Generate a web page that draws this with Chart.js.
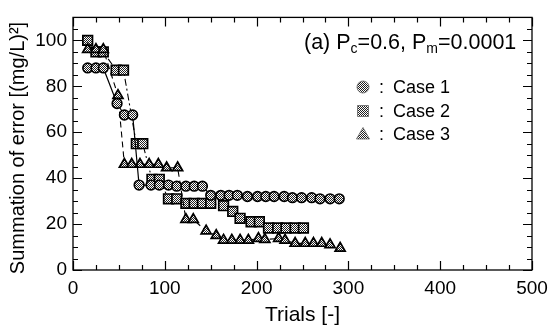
<!DOCTYPE html>
<html><head><meta charset="utf-8">
<script src="https://cdn.jsdelivr.net/npm/chart.js@4.4.0/dist/chart.umd.min.js"></script>
<style>html,body{margin:0;padding:0;background:#fff}</style>
</head><body>
<canvas id="c" width="555" height="332"></canvas>
<script>
// ---- data ----
const case1Trials = [16, 25, 33, 48, 56, 65, 72, 85, 94, 104, 113, 123, 132, 141, 150, 161, 170, 179, 190, 201, 210, 219, 230, 239, 249, 260, 269, 280, 290];
const case1Values = [88, 88, 88, 72.5, 67.5, 67.5, 37, 37, 37, 37, 36.5, 36.5, 36.5, 36.5, 32.5, 32.5, 32.5, 32.5, 32, 32, 32, 32, 32, 31.5, 31.5, 31.5, 31, 31, 31];
const case2Trials = [16, 25, 33, 47, 55, 69, 76, 86, 94, 104, 113, 123, 132, 141, 150, 164, 174, 182, 194, 203, 213, 223, 232, 242, 251];
const case2Values = [100, 95, 95, 87, 87, 55, 55, 39.5, 39.5, 31, 31, 29, 29, 29, 29, 28, 25.5, 22.5, 21, 21, 18.3, 18.3, 18.3, 18.3, 18.3];
const case3Trials = [16, 25, 33, 49, 56, 64, 73, 83, 93, 102, 114, 123, 131, 145, 156, 164, 173, 182, 191, 202, 209, 224, 231, 242, 253, 262, 271, 280, 291];
const case3Values = [96, 96, 96, 76, 46, 46, 46, 46, 46, 44.5, 44.5, 22, 22, 17, 15, 13, 13, 13, 13, 13.7, 13.3, 13.7, 13, 11.6, 11.6, 11.6, 11.6, 11, 9.5];
const seriesNames = ['Case 1', 'Case 2', 'Case 3'];
const xTicks = [0, 100, 200, 300, 400, 500];
const yTicks = [0, 20, 40, 60, 80, 100];
const xTitle = 'Trials [-]';
const yTitle = 'Summation of error [(mg/L)\u00B2]';

// ---- halftone pattern for markers ----
function makePattern(){
  const pc = document.createElement('canvas'); pc.width = 2; pc.height = 2;
  const g = pc.getContext('2d');
  g.fillStyle = '#fff'; g.fillRect(0,0,2,2);
  g.fillStyle = '#222'; g.fillRect(0,0,1,1); g.fillRect(1,1,1,1);
  return document.createElement('canvas').getContext('2d').createPattern(pc, 'repeat');
}
const halftone = makePattern();
const FONT = 'Arial, "Liberation Sans", Helvetica, sans-serif';

function pts(xs, ys){ return xs.map((x,i)=>({x, y: ys[i]})); }

const framePlugin = {
  id: 'frame',
  beforeDatasetsDraw(chart){
    const {ctx, chartArea:a, scales:{x, y}} = chart;
    ctx.save();
    ctx.strokeStyle = '#000';
    ctx.lineWidth = 1.3;
    ctx.strokeRect(a.left, a.top, a.right - a.left, a.bottom - a.top);
    ctx.lineWidth = 1.2;
    ctx.beginPath();
    for (let v = 0; v <= 500; v += 25){
      const p = Math.round(x.getPixelForValue(v)) + 0.5;
      const L = v % 100 === 0 ? 9 : 5;
      ctx.moveTo(p, a.bottom); ctx.lineTo(p, a.bottom - L);
      ctx.moveTo(p, a.top); ctx.lineTo(p, a.top + L);
    }
    for (let v = 0; v <= 110; v += 5){
      const p = Math.round(y.getPixelForValue(v)) + 0.5;
      const L = v % 20 === 0 ? 9 : 5;
      ctx.moveTo(a.left, p); ctx.lineTo(a.left + L, p);
      ctx.moveTo(a.right, p); ctx.lineTo(a.right - L, p);
    }
    ctx.stroke();
    ctx.restore();
  },
  afterDraw(chart){
    const {ctx} = chart;
    ctx.save();
    ctx.fillStyle = '#000';
    // y axis title
    ctx.save();
    ctx.translate(18, 148);
    ctx.rotate(-Math.PI/2);
    ctx.font = '20px ' + FONT;
    ctx.textAlign = 'center'; ctx.textBaseline = 'middle';
    ctx.fillText(yTitle, 0, 0);
    ctx.restore();
    // annotation title with subscripts
    const parts = [['(a) P', 0], ['c', 1], ['=0.6, P', 0], ['m', 1], ['=0.0001', 0]];
    let xx = 304; const base = 49;
    ctx.textBaseline = 'alphabetic'; ctx.textAlign = 'left';
    for (const [t, sub] of parts){
      ctx.font = (sub ? '14px ' : '21.5px ') + FONT;
      ctx.fillText(t, xx, base + (sub ? 4 : 0));
      xx += ctx.measureText(t).width;
    }
    // legend
    const rows = [87, 111, 134];
    ctx.font = '18px ' + FONT;
    ctx.textBaseline = 'middle';
    rows.forEach((ry, i) => {
      const mx = 363;
      ctx.fillStyle = halftone;
      ctx.strokeStyle = '#666'; ctx.lineWidth = 0.8;
      ctx.beginPath();
      if (i === 0) ctx.arc(mx, ry, 6, 0, Math.PI*2);
      else if (i === 1) ctx.rect(mx - 5.5, ry - 5.5, 11, 11);
      else { ctx.moveTo(mx, ry - 6.5); ctx.lineTo(mx + 6.5, ry + 5); ctx.lineTo(mx - 6.5, ry + 5); ctx.closePath(); }
      ctx.fill(); ctx.stroke();
      ctx.fillStyle = '#000';
      ctx.fillText(':', 379, ry + 1);
      ctx.fillText(seriesNames[i], 393, ry + 1);
    });
    ctx.restore();
  }
};

new Chart(document.getElementById('c'), {
  type: 'line',
  data: {
    datasets: [
      { label: seriesNames[0], data: pts(case1Trials, case1Values), borderColor: '#000', borderWidth: 1.2,
        pointStyle: 'circle', pointRadius: 4.8, pointBackgroundColor: halftone, pointBorderColor: '#000', pointBorderWidth: 1.7, order: 1 },
      { label: seriesNames[1], data: pts(case2Trials, case2Values), borderColor: '#000', borderWidth: 1.1, borderDash: [7, 3, 2, 3],
        pointStyle: 'rect', pointRadius: 6.8, pointBackgroundColor: halftone, pointBorderColor: '#000', pointBorderWidth: 1.7, order: 3 },
      { label: seriesNames[2], data: pts(case3Trials, case3Values), borderColor: '#000', borderWidth: 1.1, borderDash: [6, 4],
        pointStyle: 'triangle', pointRadius: 5.8, pointBackgroundColor: halftone, pointBorderColor: '#000', pointBorderWidth: 1.7, order: 2 }
    ]
  },
  options: {
    responsive: false, animation: false, devicePixelRatio: 1,
    layout: { padding: { left: 0, right: 23, top: 9, bottom: 0 } },
    plugins: { legend: { display: false }, tooltip: { enabled: false } },
    elements: { line: { tension: 0 } },
    scales: {
      x: {
        type: 'linear', min: 0, max: 500,
        afterBuildTicks: s => { s.ticks = xTicks.map(v => ({ value: v })); },
        afterFit: s => { s.height = 62; },
        grid: { display: false, drawTicks: false },
        border: { display: false },
        ticks: { color: '#000', font: { size: 19, family: FONT }, padding: 7, maxRotation: 0, autoSkip: false },
        title: { display: true, text: xTitle, color: '#000', font: { size: 21, family: FONT }, padding: { top: 0 } }
      },
      y: {
        type: 'linear', min: 0, max: 110,
        afterBuildTicks: s => { s.ticks = yTicks.map(v => ({ value: v })); },
        afterFit: s => { s.width = 73; },
        grid: { display: false, drawTicks: false },
        border: { display: false },
        ticks: { color: '#000', font: { size: 19, family: FONT }, padding: 6, autoSkip: false }
      }
    }
  },
  plugins: [framePlugin]
});
</script>
</body></html>
